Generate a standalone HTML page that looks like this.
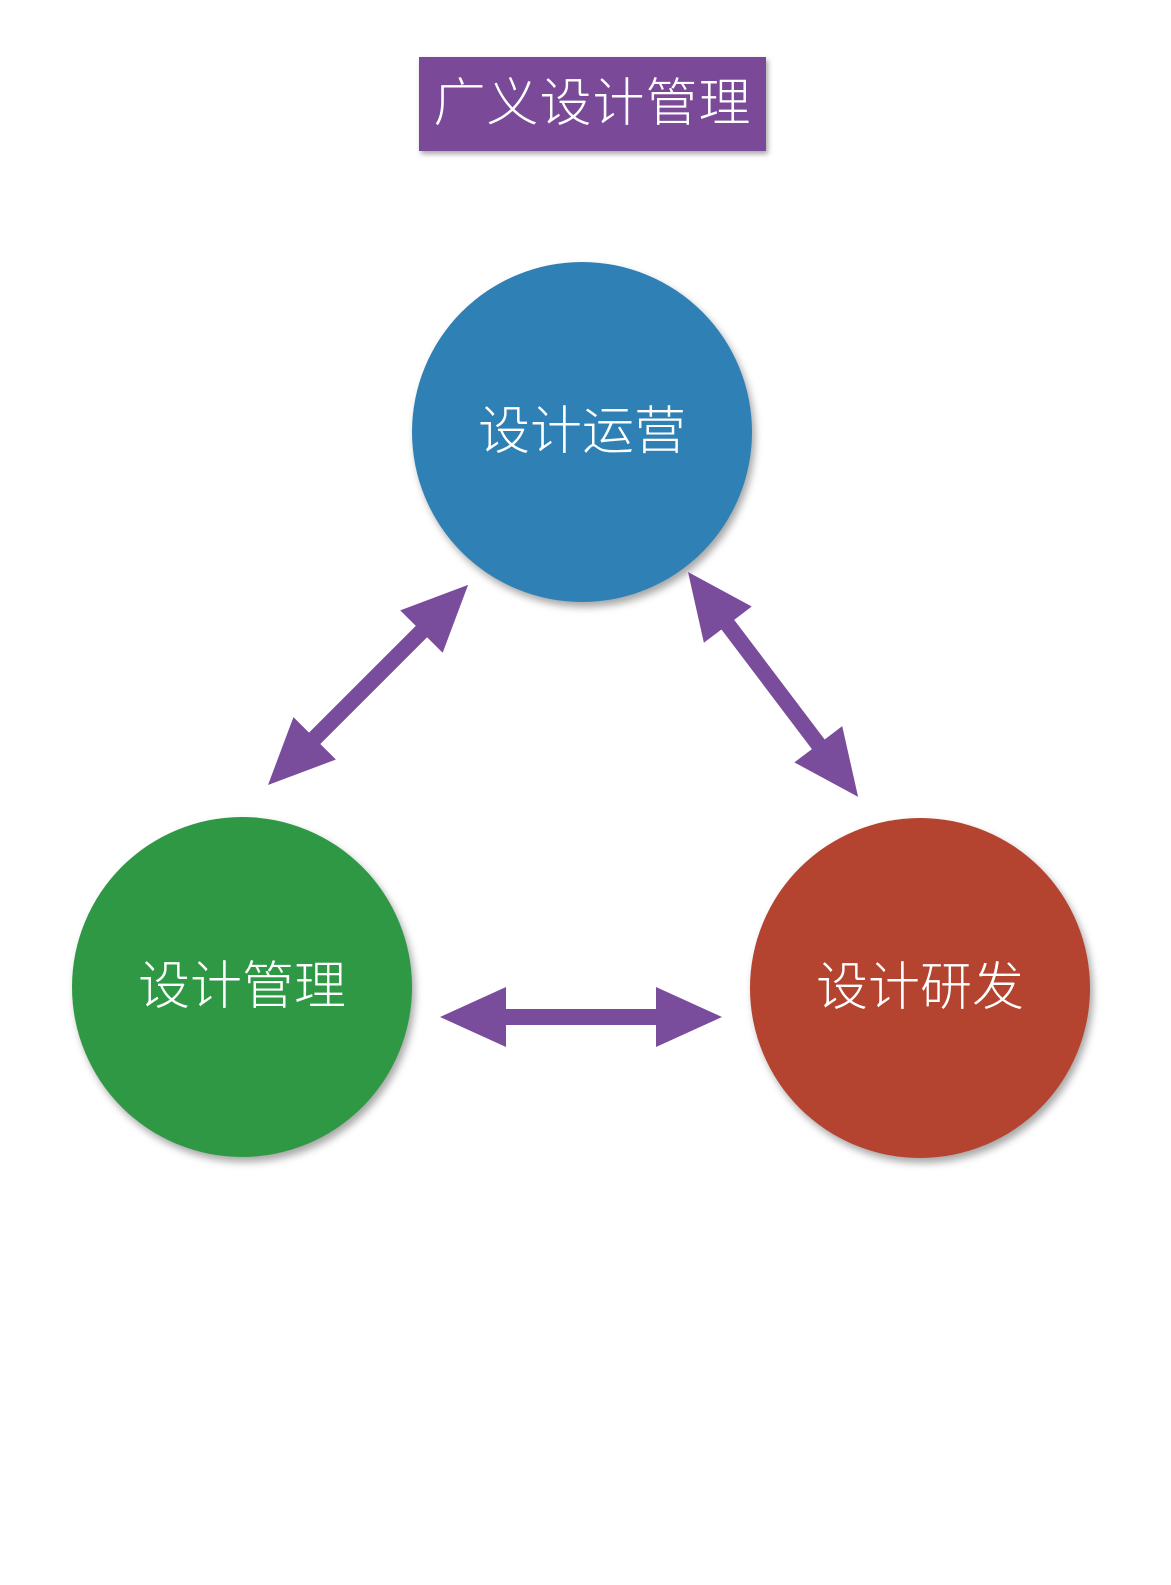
<!DOCTYPE html>
<html><head><meta charset="utf-8"><style>
html,body{margin:0;padding:0;background:#fff;}
body{width:1171px;height:1585px;position:relative;overflow:hidden;font-family:"Liberation Sans","Noto Sans CJK SC",sans-serif;font-weight:300;}
.title{position:absolute;left:419px;top:57px;width:347px;height:94px;background:#7a4a98;color:#fff;font-size:52px;line-height:94px;text-align:center;box-shadow:2px 3px 5px rgba(0,0,0,.35);letter-spacing:1px;font-weight:300;}
.c{position:absolute;width:340px;height:340px;border-radius:50%;color:#fff;font-size:52px;line-height:340px;text-align:center;box-shadow:3px 5px 8px rgba(0,0,0,.35);font-weight:300;}
</style></head><body>
<div class="title">广义设计管理</div>
<div class="c" style="left:412px;top:262px;background:#2f80b4;">设计运营</div>
<div class="c" style="left:72px;top:817px;background:#2f9845;">设计管理</div>
<div class="c" style="left:750px;top:818px;background:#b4432f;">设计研发</div>
<svg width="1171" height="1585" style="position:absolute;left:0;top:0">
<g fill="#7a4c9c">
<g transform="translate(440,1017)">
<polygon points="0,0 66,-30 66,-8 216,-8 216,-30 282,0 216,30 216,8 66,8 66,30"/>
</g>
<g transform="translate(268,785) rotate(-45)">
<polygon points="0,0 66,-30 66,-8 217,-8 217,-30 283,0 217,30 217,8 66,8 66,30"/>
</g>
<g transform="translate(688,572) rotate(52.9)">
<polygon points="0,0 66,-30 66,-8 216,-8 216,-30 282,0 216,30 216,8 66,8 66,30"/>
</g>
</g>
</svg>
</body></html>
